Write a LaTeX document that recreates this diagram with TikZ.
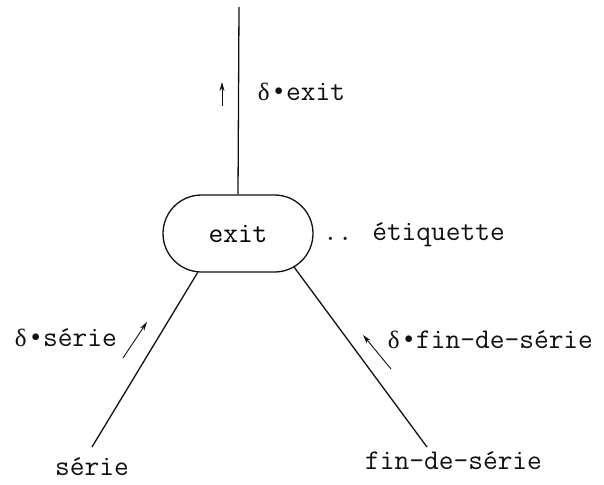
\documentclass[tikz,border=0pt]{standalone}
\usepackage{fontspec}
\newfontfamily\grk{Liberation Serif}
\usetikzlibrary{arrows.meta,shapes.misc}
\definecolor{dInk}{HTML}{111111}
\newcommand\typew{\ttfamily\fontsize{28.6}{34}\selectfont}
\newcommand\dl{\makebox[15pt]{\grk\fontsize{25}{30}\selectfont δ}}
\newcommand\bu{\makebox[15pt]{\grk\fontsize{28}{30}\selectfont •}}
\tikzset{
  state/.style ={rounded rectangle,draw=dInk,line width=1.3pt,fill=white,
                 minimum width=150pt,minimum height=77pt,inner sep=0pt,
                 font=\typew},
  leg/.style   ={dInk,line width=1.3pt},
  flow/.style  ={-{Stealth[length=9pt,width=5pt]},dInk,line width=0.9pt},
  lbl/.style   ={font=\typew,text=dInk,inner sep=0pt},
}
\begin{document}
\begin{tikzpicture}[x=1pt,y=-1pt]
\fill[white] (0,0) rectangle (604,484);
\useasboundingbox (0,0) rectangle (604,484);

% the label node
\node[state] (exit) at (238,233.5) {exit};
\node[lbl,anchor=base west] (etiq) at (323,240) {.. étiquette};

% free ends of the three branches
\coordinate (topEnd)   at (239,7);
\coordinate (serieEnd) at (92,447);
\coordinate (finEnd)   at (427,447);
\draw[leg] (exit.north) -- (topEnd);
\draw[leg] (exit.224) -- (serieEnd);
\draw[leg] (exit.329) -- (finEnd);

\node[lbl,anchor=base west] (serie) at (55,475) {série};
\node[lbl,anchor=base west] (fin)   at (365,469) {fin-de-série};

% flow marks beside the branches
\coordinate (upA) at (222,106);  \coordinate (upB) at (222,82);
\coordinate (slA) at (123,358);  \coordinate (slB) at (147,322);
\coordinate (srA) at (391,369);  \coordinate (srB) at (363,335);
\draw[flow] (upA) -- (upB);
\draw[flow] (slA) -- (slB);
\draw[flow] (srA) -- (srB);

\node[lbl,anchor=base west] (dExit)  at (256,101) {\dl\bu exit};
\node[lbl,anchor=base west] (dSerie) at (13,346)  {\dl\bu série};
\node[lbl,anchor=base west] (dFin)   at (386,348) {\dl\bu fin-de-série};
\end{tikzpicture}
\end{document}
